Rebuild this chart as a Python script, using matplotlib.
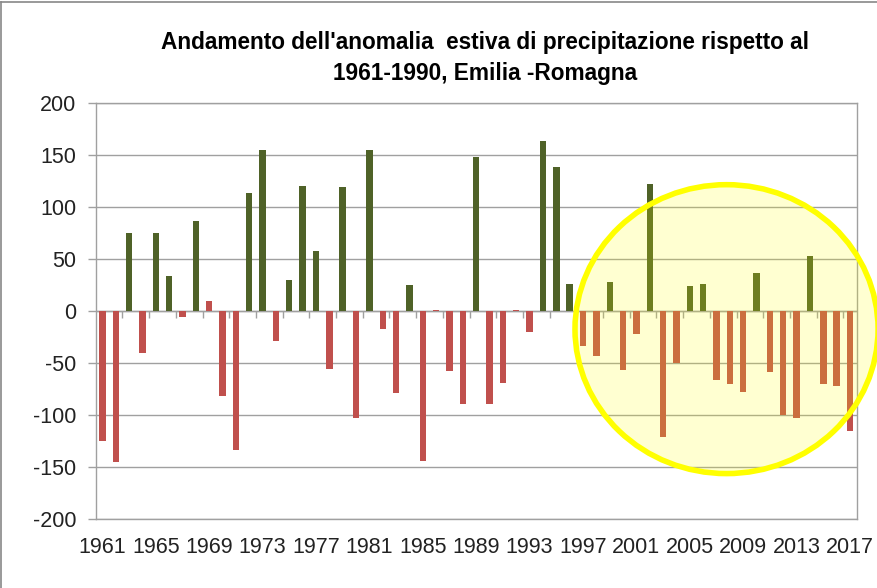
import numpy as np
import matplotlib
matplotlib.use("Agg")
import matplotlib.pyplot as plt
from matplotlib.patches import Ellipse
from matplotlib.lines import Line2D

years = list(range(1961, 2018))
anomaly = [-125, -145, 75, -40, 75, 34, -6, 87, 10, -82,
           -134, 114, 155, -29, 30, 120, 58, -56, 119, -103,
           155, -17, -79, 25, -144, 1, -58, -89, 148, -89,
           -69, 1, -20, 164, 139, 26, -34, -43, 28, -57,
           -22, 122, -121, -50, 24, 26, -66, -70, -78, 37,
           -59, -100, -103, 53, -70, -72, -115]
title = "Andamento dell'anomalia  estiva di precipitazione rispetto al\n1961-1990, Emilia -Romagna"
yticks = [-200, -150, -100, -50, 0, 50, 100, 150, 200]

GREEN = "#4F6228"
RED = "#C0504D"
GRID = "#A0A0A0"

plt.rcParams['font.family'] = ['Liberation Sans', 'DejaVu Sans']

fig = plt.figure(figsize=(8.77, 5.88), dpi=100)
ax = fig.add_axes([95.7/877, 1-519/588, (856.7-95.7)/877, (519-103.3)/588])

x = np.arange(len(years))
colors = [GREEN if v > 15 else RED for v in anomaly]
ax.bar(x, anomaly, width=0.48, color=colors, zorder=3)

ax.set_xlim(-0.5, len(years) - 0.5)
ax.set_ylim(-200, 200)
ax.set_yticks(yticks)
ax.set_yticklabels([str(t) for t in yticks], fontsize=15.5, color="#222222")
ax.yaxis.grid(True, color=GRID, lw=1.0, zorder=0)
ax.set_axisbelow(True)
ax.tick_params(axis='y', length=6, width=1, color=GRID, pad=8)

lab_idx = x[::4]
ax.set_xticks(lab_idx)
ax.set_xticklabels([str(years[i]) for i in lab_idx], fontsize=15.5, color="#222222")
ax.tick_params(axis='x', length=0, pad=13)

for s in ax.spines.values():
    s.set_color(GRID)
    s.set_linewidth(1.0)

# category axis at zero with tick marks every 2 categories
ax.axhline(0, color=GRID, lw=1.0, zorder=2)
bnd = np.arange(-0.5, len(years) - 0.5, 2)
ax.vlines(bnd[1:], -7, 0, color=GRID, lw=1.0, zorder=2)

# highlight ellipse
ell = Ellipse((46.75, -17.3), 22.7, 278, facecolor=(1, 1, 0, 0.18),
              edgecolor=(1, 1, 0, 1), lw=4.0, zorder=5, clip_on=False)
ax.add_patch(ell)

fig.text(0.5 + (485 - 438.5)/877, 1 - 58/588, title, ha='center', va='center',
         fontsize=16.3, fontweight='bold', linespacing=1.45, color='black')

# chart area border (top and left visible)
fig.add_artist(Line2D([0.0015, 1], [1 - 2/588, 1 - 2/588], color="#888888", lw=1.2,
                      transform=fig.transFigure))
fig.add_artist(Line2D([0.0015, 0.0015], [0, 1 - 2/588], color="#888888", lw=1.2,
                      transform=fig.transFigure))

fig.savefig("out.png", dpi=100)
